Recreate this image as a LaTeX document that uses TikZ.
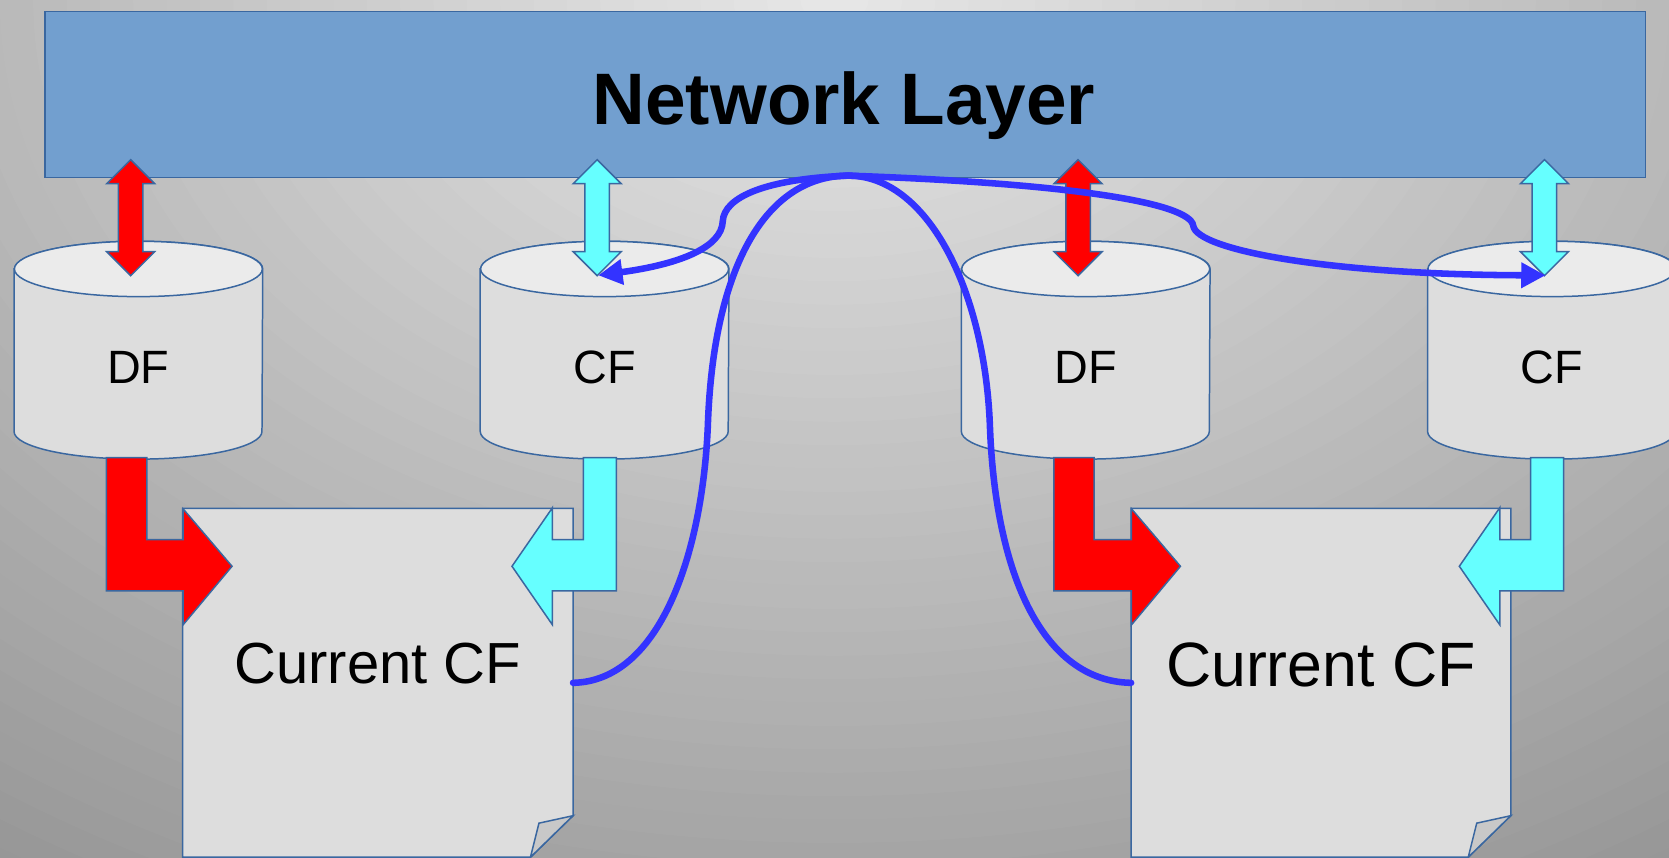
\documentclass[tikz,border=0pt]{standalone}
\usepackage{fontspec}
\setmainfont{Liberation Sans}
\usetikzlibrary{arrows.meta}

\definecolor{edgeblue}{HTML}{3A67A0}
\definecolor{netfill}{HTML}{729FCF}
\definecolor{cyltop}{HTML}{EBEBEB}
\definecolor{cylbody}{HTML}{DDDDDD}
\definecolor{docfill}{HTML}{DDDDDD}
\definecolor{foldfill}{HTML}{C8C8C8}
\definecolor{dfred}{HTML}{FF0000}
\definecolor{cfcyan}{HTML}{66FFFF}
\definecolor{linkblue}{HTML}{3333FF}
\definecolor{bgbase}{HTML}{979797}

\begin{document}
\begin{tikzpicture}[x=0.02cm,y=-0.02cm,
    netbox/.style={rectangle,draw=edgeblue,line width=0.8pt,fill=netfill,minimum width=30.08cm,minimum height=3.12cm,inner sep=0},
    cylbox/.style={rectangle,minimum width=4.66cm,minimum height=4.08cm,inner sep=0},
    cylline/.style={draw=edgeblue,line width=0.8pt},
    cyllabel/.style={anchor=base,font=\fontsize{25}{30}\selectfont,inner sep=0},
    docbox/.style={rectangle,minimum height=6.54cm,inner sep=0},
    doclabel/.style={anchor=base,inner sep=0},
    fatarrow/.style={draw=edgeblue,line width=0.8pt,line join=miter},
    link/.style={draw=linkblue,line width=3.5pt,line cap=round},
    linktip/.style={-{Triangle[length=13pt,width=13pt]}}]

  \useasboundingbox (0,0) rectangle (1568,806);
  % grey backdrop, lighter towards the top middle
  \begin{scope}
    \clip (0,0) rectangle (1568,806);
    \fill[bgbase] (0,0) rectangle (1568,806);
    \foreach \d in {0.90,0.88,...,0.01} {
      \pgfmathtruncatemacro\g{232-90*\d}
      \fill[fill={rgb,255:red,\g;green,\g;blue,\g}] (784,0) ellipse[x radius=\d*31.36cm,y radius=\d*22cm];
    }
  \end{scope}

  \node[netbox] (net) at (794,89) {};
  \node[anchor=base,font=\fontsize{39}{47}\selectfont\bfseries,inner sep=0] (nettxt) at (793,117) {Network Layer};

  % two halves: DF / CF stores and the current CF document
  \foreach \s/\n/\dl/\dr/\fs/\bl in {0/a/172/538/31/642,890/b/1063/1419/33.5/645} {
    \pgfmathsetmacro\dc{(\dl+\dr)/2}
    \node[cylbox] (df\n) at (130+\s,329) {};
    \node[cylbox] (cf\n) at (568+\s,329) {};
    \foreach \c in {df\n,cf\n} {
      \filldraw[cylline,fill=cylbody] ([yshift=-0.52cm]\c.north west) -- ([yshift=0.52cm]\c.south west)
        arc[start angle=180,end angle=360,x radius=2.33cm,y radius=0.52cm]
        -- ([yshift=-0.52cm]\c.north east) arc[start angle=0,end angle=180,x radius=2.33cm,y radius=0.52cm] -- cycle;
      \filldraw[cylline,fill=cyltop] ([yshift=-0.52cm]\c.north) ellipse[x radius=2.33cm,y radius=0.52cm];
    }
    \node[cyllabel] (df\n txt) at (130+\s,360) {DF};
    \node[cyllabel] (cf\n txt) at (568+\s,360) {CF};
    \coordinate (cf\n tip) at ([xshift=-0.12cm,yshift=-0.64cm]cf\n.north);
    \node[docbox,minimum width=(\dr-\dl)*0.02cm] (doc\n) at (\dc,641.5) {};
    \filldraw[draw=edgeblue,line width=0.8pt,fill=docfill] (doc\n.north west) -- (doc\n.north east)
      -- ([yshift=0.78cm]doc\n.south east) -- ([xshift=-0.8cm]doc\n.south east) -- (doc\n.south west) -- cycle;
    \filldraw[draw=edgeblue,line width=0.8pt,fill=foldfill] ([yshift=0.78cm]doc\n.south east)
      -- ([xshift=-0.64cm,yshift=0.64cm]doc\n.south east) -- ([xshift=-0.8cm]doc\n.south east) -- cycle;
    \node[doclabel,font=\fontsize{\fs}{\fs}\selectfont] (doc\n txt) at (\dc,\bl) {Current CF};
    \filldraw[fatarrow,fill=dfred] (100+\s,430) -- (138+\s,430) -- (138+\s,507) -- (\dl,507) -- (\dl,478)
      -- (\dl+46,532) -- (\dl,587) -- (\dl,555) -- (100+\s,555) -- cycle;
    \filldraw[fatarrow,fill=cfcyan] (548+\s,430) -- (579+\s,430) -- (579+\s,555) -- (519+\s,555) -- (519+\s,587)
      -- (481+\s,532) -- (519+\s,477) -- (519+\s,507) -- (548+\s,507) -- cycle;
    \foreach \cx/\col in {122.8/dfred,561/cfcyan}
      \filldraw[fatarrow,fill=\col] (\cx+\s,150) -- ++(22.5,22.5) -- ++(-11,0) -- ++(0,64) -- ++(11,0)
        -- ++(-22.5,22.5) -- ++(-22.5,-22.5) -- ++(11,0) -- ++(0,-64) -- ++(-11,0) -- cycle;
  }

  % blue links
  \coordinate (hub) at (797,165);
  \draw[link] (doca.east) .. controls (620,640) and (660,520) .. (665,400)
    .. controls (670,250) and (720,165) .. (hub)
    .. controls (870,165) and (925,270) .. (930,400)
    .. controls (935,540) and (980,640) .. (docb.west);
  \draw[link,linktip] (hub) .. controls (720,168) and (680,185) .. (679,208)
    .. controls (678,232) and (640,248) .. (cfatip);
  \draw[link,linktip] (hub) .. controls (1000,172) and (1118,190) .. (1121,212)
    .. controls (1124,235) and (1250,258) .. (cfbtip);
\end{tikzpicture}
\end{document}
